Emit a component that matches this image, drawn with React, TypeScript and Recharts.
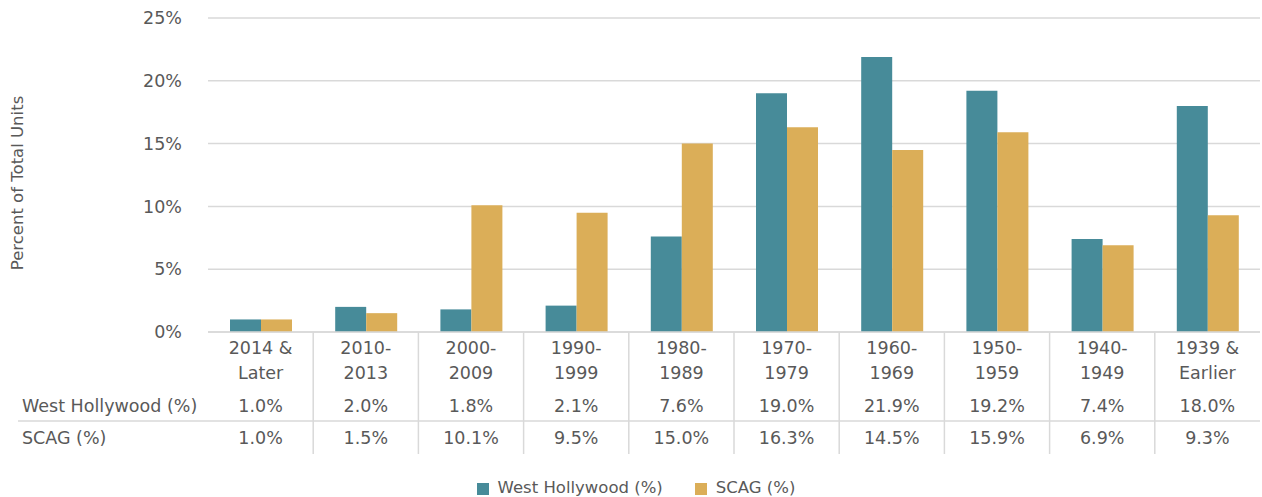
import React from "react";
import {
  Bar,
  BarChart,
  CartesianGrid,
  Legend,
  XAxis,
  YAxis,
} from "recharts";

const categories = [
  "2014 &\nLater",
  "2010-\n2013",
  "2000-\n2009",
  "1990-\n1999",
  "1980-\n1989",
  "1970-\n1979",
  "1960-\n1969",
  "1950-\n1959",
  "1940-\n1949",
  "1939 &\nEarlier",
];
const westHollywood = [1.0, 2.0, 1.8, 2.1, 7.6, 19.0, 21.9, 19.2, 7.4, 18.0];
const scag = [1.0, 1.5, 10.1, 9.5, 15.0, 16.3, 14.5, 15.9, 6.9, 9.3];
const yTicks = [0, 5, 10, 15, 20, 25];

const data = categories.map((c, i) => ({
  name: c,
  wh: westHollywood[i],
  scag: scag[i],
}));

const W = 1262;
const H = 497;
const LEFT = 208;
const RIGHT = 2;
const BAND = (W - LEFT - RIGHT) / categories.length;
const FONT = "'DejaVu Sans', sans-serif";
const TEXT = "#595959";
const GRID = "#d9d9d9";
const TEAL = "#478b99";
const GOLD = "#dbae58";

// draws the category label plus the data-table cells under each bar group
const TableTick = (props: any) => {
  const { x, y, payload, index } = props;
  const lines = String(payload.value).split("\n");
  const right = x + BAND / 2;
  return (
    <g fontFamily={FONT} fontSize={17.5} fill={TEXT}>
      {index === 0 && (
        <g>
          <line x1={18} x2={W - RIGHT} y1={y + 89} y2={y + 89} stroke={GRID} strokeWidth={1.5} />
          <text x={22} y={y + 74} dominantBaseline="central" fill={TEXT}>
            West Hollywood (%)
          </text>
          <text x={22} y={y + 106} dominantBaseline="central" fill={TEXT}>
            SCAG (%)
          </text>
        </g>
      )}
      {index < categories.length - 1 && (
        <line x1={right} x2={right} y1={y} y2={y + 122} stroke={GRID} strokeWidth={1.5} />
      )}
      {lines.map((l, i) => (
        <text key={i} x={x} y={y + 16 + i * 25} textAnchor="middle" dominantBaseline="central" fill={TEXT}>
          {l}
        </text>
      ))}
      <text x={x} y={y + 74} textAnchor="middle" dominantBaseline="central" fill={TEXT}>
        {westHollywood[index].toFixed(1)}%
      </text>
      <text x={x} y={y + 106} textAnchor="middle" dominantBaseline="central" fill={TEXT}>
        {scag[index].toFixed(1)}%
      </text>
    </g>
  );
};

export default function App() {
  return (
    <div style={{ position: "absolute", left: 0, top: 0, width: W, height: H, background: "#fff" }}>
      <BarChart
        width={W}
        height={H}
        data={data}
        margin={{ top: 18, right: RIGHT, left: 0, bottom: 0 }}
        barGap={0}
        barCategoryGap={22}
      >
        <CartesianGrid vertical={false} stroke={GRID} strokeWidth={1.5} />
        <XAxis
          dataKey="name"
          interval={0}
          height={140}
          tickLine={false}
          tickSize={0}
          tickMargin={0}
          axisLine={{ stroke: GRID, strokeWidth: 1.5 }}
          tick={<TableTick />}
        />
        <YAxis
          width={LEFT}
          domain={[0, 25]}
          ticks={yTicks}
          tickFormatter={(v) => `${v}%`}
          axisLine={false}
          tickLine={false}
          tickMargin={20}
          tick={{ fill: TEXT, fontSize: 17.5, fontFamily: FONT }}
          label={{
            value: "Percent of Total Units",
            angle: -90,
            position: "insideLeft",
            dx: 12,
            dy: 8,
            style: { fill: TEXT, fontSize: 16.5, fontFamily: FONT, textAnchor: "middle" },
          }}
        />
        <Legend
          verticalAlign="bottom"
          height={25}
          iconType="square"
          iconSize={12}
          itemSorter={(item: any) => (item.dataKey === "wh" ? 0 : 1)}
          wrapperStyle={{ fontFamily: FONT, fontSize: 16.5, color: TEXT, bottom: -6, left: 22 }}
          formatter={(v) => (
            <span style={{ color: TEXT, marginLeft: 5, marginRight: 22 }}>{v}</span>
          )}
        />
        <Bar dataKey="wh" name="West Hollywood (%)" fill={TEAL} isAnimationActive={false} />
        <Bar dataKey="scag" name="SCAG (%)" fill={GOLD} isAnimationActive={false} />
      </BarChart>
    </div>
  );
}
